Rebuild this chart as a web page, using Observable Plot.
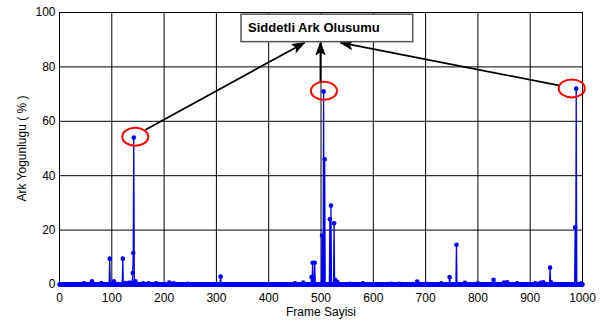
<!DOCTYPE html>
<html>
<head>
<meta charset="utf-8">
<script src="https://cdn.jsdelivr.net/npm/d3@7"></script>
<script src="https://cdn.jsdelivr.net/npm/@observablehq/plot@0.6"></script>
<style>
  html, body { margin: 0; padding: 0; background: white; }
  #chart { width: 606px; height: 320px; }
</style>
</head>
<body>
<div id="chart"></div>
<script>
// ---- data ----
const frameCount = 1000;               // frames 0..1000, baseline value 0
const spikeFrames = [47, 62, 80, 96, 104, 121, 126, 133, 136, 140, 141, 142, 145, 160, 170, 185, 210, 218, 245, 308,
  450, 466, 482, 484, 488, 502, 505, 507, 517, 519, 525, 527, 531, 556, 580, 635, 650, 684, 700, 730, 746, 759, 775,
  800, 830, 850, 856, 875, 910, 920, 925, 938, 940, 986, 988, 998];
const spikeValues = [0.4, 1.2, 0.5, 9.5, 1.2, 9.5, 0.5, 0.6, 0.6, 4.2, 11.6, 54, 1.2, 0.4, 0.4, 0.4, 0.7, 0.4, 0.3, 2.9,
  0.4, 0.7, 2.7, 8, 8, 18, 71, 46, 24, 29, 22.5, 1.7, 1, 0.3, 0.4, 0.3, 0.3, 1.1, 0.3, 0.4, 2.7, 14.6, 0.6,
  0.4, 1.7, 0.7, 0.8, 0.4, 0.4, 0.6, 0.8, 6.2, 0.8, 21, 72, 0.4];
const xTicks = [0, 100, 200, 300, 400, 500, 600, 700, 800, 900, 1000];
const yTicks = [0, 20, 40, 60, 80, 100];

// annotations (data coordinates)
const ellipseX = [144.9, 505.7, 979.5];
const ellipseY = [54.3, 71.2, 72.1];
const arrowFromX = [164.4, 499, 954.7];
const arrowFromY = [56.9, 74.4, 73.2];
const arrowToX = [468.5, 499, 537.3];
const arrowToY = [88.9, 88.9, 88.9];
const boxText = "Siddetli Ark Olusumu";
const boxX = [348, 676.3];
const boxY = [89.1, 99.2];
const boxTextX = 360.5;
const boxTextY = 94.2;

// ---- build tables ----
const lookup = new Map(spikeFrames.map((f, i) => [f, spikeValues[i]]));
const series = d3.range(0, frameCount + 1).map(f => ({frame: f, value: lookup.get(f) ?? 0}));
const ellipses = ellipseX.map((x, i) => ({x, y: ellipseY[i]}));
const arrows = arrowFromX.map((x, i) => ({x1: x, y1: arrowFromY[i], x2: arrowToX[i], y2: arrowToY[i]}));
const box = [{x1: boxX[0], x2: boxX[1], y1: boxY[0], y2: boxY[1]}];

const ellipseSymbol = {
  draw(ctx) {
    const rx = 13, ry = 9, k = 0.5523;
    ctx.moveTo(rx, 0);
    ctx.bezierCurveTo(rx, ry * k, rx * k, ry, 0, ry);
    ctx.bezierCurveTo(-rx * k, ry, -rx, ry * k, -rx, 0);
    ctx.bezierCurveTo(-rx, -ry * k, -rx * k, -ry, 0, -ry);
    ctx.bezierCurveTo(rx * k, -ry, rx, -ry * k, rx, 0);
    ctx.closePath();
  }
};

function arrowHeads(index, scales, values, dimensions, context, next) {
  const g = next(index, scales, values, dimensions, context);
  const {x1: X1, y1: Y1, x2: X2, y2: Y2} = values;
  const sel = d3.select(g);
  for (const i of index) {
    const ang = Math.atan2(Y2[i] - Y1[i], X2[i] - X1[i]);
    const L = 12, W = 4.5, N = 9;
    const c = Math.cos(ang), s = Math.sin(ang);
    const tx = X2[i], ty = Y2[i];
    const p = (a, b) => [tx - a * c - b * s, ty - a * s + b * c];
    const pts = [[tx, ty], p(L, W), p(N, 0), p(L, -W)];
    sel.append("path")
      .attr("d", "M" + pts.map(q => q.join(",")).join("L") + "Z")
      .attr("fill", "black").attr("stroke", "black").attr("stroke-width", 1);
  }
  return g;
}

const chart = Plot.plot({
  width: 606,
  height: 320,
  marginTop: 12,
  marginRight: 24,
  marginBottom: 36,
  marginLeft: 59,
  style: {fontFamily: "'Liberation Sans', Arial, Helvetica, sans-serif", fontSize: "12px", background: "white", color: "black"},
  x: {domain: [0, 1000]},
  y: {domain: [0, 100]},
  marks: [
    Plot.gridX(xTicks, {stroke: "black", strokeOpacity: 1, strokeWidth: 1}),
    Plot.gridY(yTicks, {stroke: "black", strokeOpacity: 1, strokeWidth: 1}),
    Plot.frame({stroke: "black", strokeWidth: 1}),
    Plot.axisX(xTicks, {tickSize: 0, tickPadding: 9, fontSize: 12, tickFormat: d => String(d), label: "Frame Sayisi", labelAnchor: "center", labelArrow: "none", labelOffset: 31}),
    Plot.axisY(yTicks, {tickSize: 0, tickPadding: 4, fontSize: 12, tickFormat: d => String(d), label: "Ark Yogunlugu ( % )", labelAnchor: "center", labelArrow: "none", labelOffset: 42}),
    Plot.line(series, {x: "frame", y: "value", stroke: "#0000ff", strokeWidth: 1.3}),
    Plot.dot(series, {x: "frame", y: "value", r: 2.3, fill: "#0000ff", stroke: "none"}),
    Plot.dot(ellipses, {x: "x", y: "y", symbol: ellipseSymbol, r: 5, fill: "none", stroke: "#ff0000", strokeWidth: 2}),
    Plot.link(arrows, {x1: "x1", y1: "y1", x2: "x2", y2: "y2", stroke: "black", strokeWidth: 1.8, render: arrowHeads}),
    Plot.rect(box, {x1: "x1", x2: "x2", y1: "y1", y2: "y2", fill: "white", stroke: "#555", strokeWidth: 1.5}),
    Plot.text([boxText], {x: () => boxTextX, y: () => boxTextY, text: d => d, textAnchor: "start", fontSize: 13, fontWeight: "bold", fill: "black"})
  ]
});
document.getElementById("chart").appendChild(chart);
</script>
</body>
</html>
